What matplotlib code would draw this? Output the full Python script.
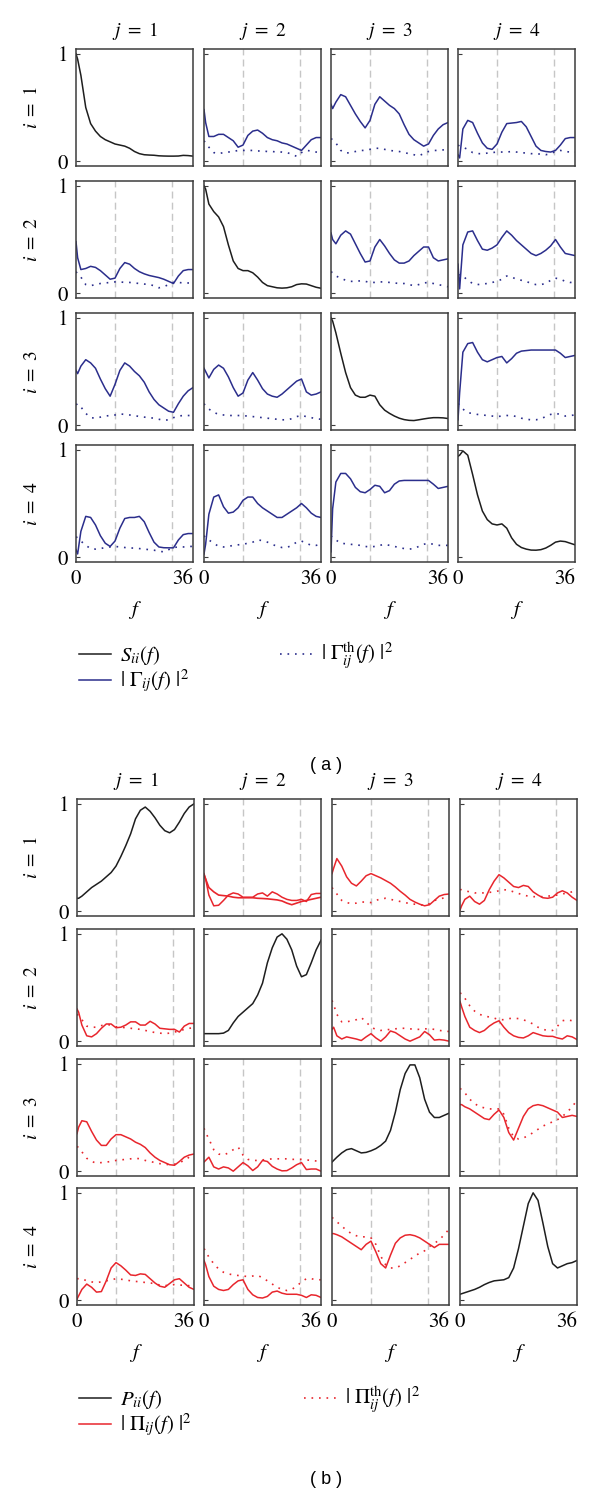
import matplotlib.pyplot as plt
from matplotlib.lines import Line2D

plt.rcParams['font.family'] = ['STIXGeneral', 'DejaVu Serif']
plt.rcParams['mathtext.fontset'] = 'stix'

# frequency grid (common to every curve)
f = [0, 0.5, 1.5, 3, 4.5, 6, 7.5, 9, 10.5, 12, 13.5, 15, 16.5, 18, 19.5, 21,
     22.5, 24, 25.5, 27, 28.5, 30, 31.5, 33, 34.5, 36]
f_marks = [12.1, 29.5]

# ---- panel (a): S_ii and |Gamma_ij|^2 ----
S11 = [1.0, 0.95, 0.8, 0.5, 0.35, 0.28, 0.23, 0.2, 0.18, 0.16, 0.15, 0.14, 0.12, 0.09, 0.07, 0.06, 0.057, 0.055, 0.05, 0.048, 0.047, 0.047, 0.048, 0.054, 0.052, 0.047]
S22 = [1.0, 0.97, 0.83, 0.76, 0.71, 0.62, 0.45, 0.3, 0.23, 0.21, 0.21, 0.19, 0.15, 0.1, 0.07, 0.06, 0.05, 0.047, 0.05, 0.06, 0.08, 0.087, 0.085, 0.07, 0.055, 0.046]
S33 = [1.0, 0.97, 0.86, 0.67, 0.49, 0.35, 0.28, 0.26, 0.26, 0.28, 0.27, 0.19, 0.14, 0.11, 0.085, 0.065, 0.052, 0.045, 0.043, 0.05, 0.058, 0.065, 0.07, 0.07, 0.068, 0.062]
S44 = [0.94, 0.95, 0.99, 0.95, 0.77, 0.58, 0.43, 0.35, 0.31, 0.3, 0.31, 0.27, 0.18, 0.12, 0.09, 0.075, 0.066, 0.065, 0.07, 0.085, 0.11, 0.14, 0.15, 0.145, 0.13, 0.115]

G12 = [0.48, 0.36, 0.23, 0.23, 0.25, 0.25, 0.22, 0.19, 0.13, 0.15, 0.24, 0.28, 0.29, 0.26, 0.22, 0.2, 0.19, 0.17, 0.16, 0.14, 0.12, 0.1, 0.15, 0.2, 0.22, 0.22]
G12th = [0.19, 0.17, 0.13, 0.08, 0.07, 0.08, 0.085, 0.09, 0.1, 0.1, 0.1, 0.1, 0.095, 0.095, 0.09, 0.09, 0.085, 0.085, 0.08, 0.065, 0.045, 0.08, 0.1, 0.095, 0.085, 0.08]
G13 = [0.53, 0.49, 0.55, 0.62, 0.6, 0.52, 0.44, 0.37, 0.31, 0.38, 0.53, 0.6, 0.56, 0.52, 0.49, 0.44, 0.34, 0.25, 0.2, 0.17, 0.14, 0.16, 0.24, 0.3, 0.34, 0.36]
G13th = [0.21, 0.2, 0.17, 0.1, 0.075, 0.08, 0.09, 0.1, 0.1, 0.11, 0.12, 0.12, 0.11, 0.1, 0.095, 0.09, 0.08, 0.07, 0.06, 0.05, 0.07, 0.09, 0.1, 0.1, 0.105, 0.1]
G14 = [0.06, 0.03, 0.3, 0.38, 0.36, 0.26, 0.17, 0.12, 0.11, 0.16, 0.27, 0.35, 0.355, 0.36, 0.37, 0.32, 0.23, 0.14, 0.1, 0.09, 0.085, 0.1, 0.15, 0.21, 0.22, 0.22]
G14th = [0.15, 0.14, 0.13, 0.11, 0.08, 0.07, 0.07, 0.075, 0.08, 0.085, 0.085, 0.085, 0.09, 0.085, 0.08, 0.075, 0.07, 0.07, 0.065, 0.06, 0.07, 0.09, 0.1, 0.09, 0.085, 0.085]
G21 = [0.48, 0.33, 0.22, 0.23, 0.25, 0.24, 0.21, 0.17, 0.13, 0.14, 0.23, 0.285, 0.27, 0.23, 0.2, 0.18, 0.165, 0.155, 0.145, 0.13, 0.11, 0.09, 0.16, 0.21, 0.22, 0.22]
G21th = [0.2, 0.18, 0.15, 0.08, 0.07, 0.08, 0.09, 0.095, 0.1, 0.105, 0.105, 0.1, 0.1, 0.095, 0.09, 0.085, 0.08, 0.07, 0.05, 0.06, 0.08, 0.1, 0.1, 0.095, 0.095, 0.095]
G23 = [0.56, 0.5, 0.46, 0.54, 0.58, 0.55, 0.46, 0.37, 0.29, 0.3, 0.43, 0.5, 0.44, 0.37, 0.31, 0.28, 0.28, 0.3, 0.35, 0.39, 0.43, 0.43, 0.33, 0.3, 0.31, 0.32]
G23th = [0.2, 0.19, 0.16, 0.14, 0.12, 0.11, 0.11, 0.115, 0.11, 0.1, 0.1, 0.105, 0.105, 0.1, 0.095, 0.09, 0.09, 0.08, 0.07, 0.08, 0.095, 0.1, 0.09, 0.08, 0.07, 0.06]
G24 = [0.27, 0.04, 0.45, 0.57, 0.58, 0.49, 0.41, 0.4, 0.42, 0.45, 0.52, 0.58, 0.54, 0.49, 0.45, 0.41, 0.37, 0.35, 0.37, 0.4, 0.44, 0.5, 0.43, 0.37, 0.36, 0.35]
G24th = [0.17, 0.17, 0.16, 0.12, 0.09, 0.08, 0.085, 0.09, 0.1, 0.11, 0.13, 0.16, 0.15, 0.13, 0.12, 0.11, 0.09, 0.08, 0.08, 0.09, 0.12, 0.14, 0.13, 0.11, 0.1, 0.1]
G31 = [0.51, 0.48, 0.55, 0.61, 0.58, 0.53, 0.43, 0.34, 0.27, 0.38, 0.51, 0.58, 0.55, 0.5, 0.46, 0.4, 0.31, 0.24, 0.19, 0.16, 0.13, 0.12, 0.2, 0.27, 0.32, 0.35]
G31th = [0.19, 0.2, 0.17, 0.11, 0.07, 0.065, 0.075, 0.085, 0.09, 0.095, 0.105, 0.1, 0.095, 0.09, 0.08, 0.075, 0.07, 0.065, 0.055, 0.045, 0.05, 0.07, 0.085, 0.09, 0.09, 0.09]
G32 = [0.53, 0.5, 0.44, 0.52, 0.56, 0.53, 0.45, 0.35, 0.27, 0.3, 0.42, 0.49, 0.42, 0.34, 0.29, 0.27, 0.26, 0.29, 0.33, 0.37, 0.41, 0.43, 0.31, 0.28, 0.29, 0.31]
G32th = [0.2, 0.18, 0.15, 0.12, 0.1, 0.095, 0.09, 0.09, 0.09, 0.088, 0.085, 0.08, 0.075, 0.07, 0.065, 0.06, 0.055, 0.05, 0.05, 0.06, 0.08, 0.09, 0.08, 0.07, 0.06, 0.055]
G34 = [0.05, 0.3, 0.68, 0.76, 0.77, 0.68, 0.61, 0.59, 0.61, 0.63, 0.64, 0.58, 0.62, 0.67, 0.69, 0.695, 0.7, 0.7, 0.7, 0.7, 0.7, 0.7, 0.67, 0.63, 0.64, 0.65]
G34th = [0.2, 0.19, 0.15, 0.115, 0.11, 0.1, 0.095, 0.09, 0.085, 0.08, 0.085, 0.09, 0.09, 0.08, 0.065, 0.055, 0.05, 0.05, 0.06, 0.08, 0.1, 0.11, 0.1, 0.085, 0.09, 0.095]
G41 = [0.07, 0.03, 0.24, 0.38, 0.37, 0.3, 0.2, 0.13, 0.1, 0.15, 0.27, 0.36, 0.37, 0.37, 0.38, 0.33, 0.23, 0.14, 0.095, 0.088, 0.087, 0.087, 0.16, 0.21, 0.22, 0.22]
G41th = [0.19, 0.18, 0.15, 0.11, 0.08, 0.075, 0.08, 0.09, 0.095, 0.1, 0.095, 0.09, 0.085, 0.085, 0.08, 0.075, 0.07, 0.065, 0.055, 0.05, 0.07, 0.09, 0.095, 0.095, 0.1, 0.1]
G42 = [0.03, 0.12, 0.4, 0.56, 0.58, 0.47, 0.41, 0.42, 0.46, 0.53, 0.56, 0.56, 0.5, 0.46, 0.43, 0.4, 0.37, 0.37, 0.4, 0.43, 0.46, 0.5, 0.46, 0.41, 0.38, 0.37]
G42th = [0.2, 0.18, 0.16, 0.13, 0.1, 0.095, 0.1, 0.11, 0.115, 0.12, 0.13, 0.14, 0.16, 0.155, 0.14, 0.12, 0.1, 0.09, 0.09, 0.11, 0.14, 0.15, 0.13, 0.11, 0.11, 0.12]
G43 = [0.05, 0.45, 0.7, 0.78, 0.78, 0.73, 0.65, 0.61, 0.6, 0.63, 0.67, 0.66, 0.6, 0.62, 0.68, 0.71, 0.715, 0.715, 0.715, 0.715, 0.715, 0.715, 0.68, 0.64, 0.65, 0.66]
G43th = [0.2, 0.18, 0.16, 0.13, 0.125, 0.12, 0.115, 0.11, 0.1, 0.095, 0.1, 0.11, 0.12, 0.11, 0.1, 0.09, 0.08, 0.075, 0.08, 0.1, 0.12, 0.13, 0.12, 0.11, 0.11, 0.11]

# ---- panel (b): P_ii and |Pi_ij|^2 ----
P11 = [0.12, 0.12, 0.14, 0.18, 0.22, 0.25, 0.28, 0.32, 0.36, 0.42, 0.51, 0.61, 0.72, 0.86, 0.94, 0.97, 0.93, 0.87, 0.8, 0.75, 0.73, 0.76, 0.83, 0.91, 0.97, 1.0]
P22 = [0.07, 0.07, 0.07, 0.07, 0.07, 0.075, 0.1, 0.17, 0.23, 0.27, 0.31, 0.35, 0.43, 0.54, 0.73, 0.87, 0.97, 1.0, 0.95, 0.85, 0.7, 0.6, 0.62, 0.73, 0.85, 0.94]
P33 = [0.085, 0.1, 0.13, 0.17, 0.2, 0.21, 0.19, 0.17, 0.175, 0.19, 0.21, 0.24, 0.28, 0.38, 0.55, 0.76, 0.91, 0.99, 0.99, 0.87, 0.67, 0.55, 0.5, 0.5, 0.52, 0.54]
P44 = [0.055, 0.06, 0.07, 0.085, 0.1, 0.12, 0.145, 0.165, 0.18, 0.185, 0.19, 0.21, 0.3, 0.48, 0.69, 0.9, 1.0, 0.93, 0.72, 0.5, 0.34, 0.3, 0.32, 0.34, 0.35, 0.37]

Pi12 = [0.35, 0.3, 0.15, 0.05, 0.055, 0.1, 0.15, 0.17, 0.16, 0.13, 0.13, 0.13, 0.16, 0.17, 0.14, 0.18, 0.16, 0.13, 0.11, 0.1, 0.1, 0.11, 0.09, 0.155, 0.165, 0.165]
Pi12th = [0.34, 0.3, 0.22, 0.18, 0.15, 0.145, 0.14, 0.13, 0.125, 0.125, 0.125, 0.125, 0.12, 0.118, 0.115, 0.11, 0.105, 0.095, 0.075, 0.06, 0.075, 0.09, 0.1, 0.11, 0.12, 0.13]
Pi13 = [0.35, 0.4, 0.49, 0.42, 0.32, 0.26, 0.235, 0.28, 0.33, 0.35, 0.33, 0.31, 0.285, 0.26, 0.225, 0.185, 0.15, 0.11, 0.085, 0.065, 0.05, 0.06, 0.1, 0.14, 0.155, 0.16]
Pi13th = [0.22, 0.2, 0.16, 0.1, 0.08, 0.07, 0.075, 0.085, 0.085, 0.08, 0.1, 0.115, 0.12, 0.11, 0.1, 0.09, 0.08, 0.07, 0.065, 0.06, 0.055, 0.07, 0.1, 0.11, 0.125, 0.135]
Pi14 = [0.01, 0.05, 0.11, 0.14, 0.09, 0.065, 0.1, 0.2, 0.28, 0.34, 0.31, 0.27, 0.23, 0.22, 0.24, 0.23, 0.18, 0.15, 0.125, 0.12, 0.13, 0.17, 0.19, 0.17, 0.13, 0.1]
Pi14th = [0.2, 0.2, 0.19, 0.18, 0.17, 0.17, 0.17, 0.175, 0.18, 0.19, 0.2, 0.195, 0.18, 0.165, 0.15, 0.14, 0.135, 0.135, 0.135, 0.14, 0.145, 0.15, 0.16, 0.17, 0.18, 0.19]
Pi21 = [0.3, 0.27, 0.15, 0.05, 0.04, 0.07, 0.12, 0.16, 0.16, 0.125, 0.13, 0.15, 0.18, 0.18, 0.15, 0.15, 0.185, 0.16, 0.12, 0.115, 0.11, 0.11, 0.085, 0.14, 0.165, 0.165]
Pi21th = [0.25, 0.24, 0.2, 0.14, 0.13, 0.13, 0.145, 0.155, 0.15, 0.135, 0.13, 0.125, 0.12, 0.115, 0.11, 0.1, 0.09, 0.08, 0.075, 0.07, 0.075, 0.085, 0.095, 0.11, 0.12, 0.125]
Pi23 = [0.11, 0.13, 0.05, 0.02, 0.04, 0.03, 0.02, 0.006, 0.04, 0.07, 0.03, 0.0, 0.04, 0.095, 0.08, 0.05, 0.02, 0.0, 0.02, 0.04, 0.09, 0.06, 0.01, 0.015, 0.01, 0.0]
Pi23th = [0.38, 0.34, 0.25, 0.18, 0.18, 0.19, 0.2, 0.22, 0.18, 0.13, 0.11, 0.1, 0.105, 0.11, 0.115, 0.12, 0.12, 0.115, 0.11, 0.11, 0.115, 0.115, 0.11, 0.1, 0.095, 0.09]
Pi24 = [0.37, 0.32, 0.23, 0.13, 0.1, 0.08, 0.1, 0.14, 0.17, 0.19, 0.13, 0.08, 0.05, 0.035, 0.03, 0.05, 0.08, 0.065, 0.05, 0.045, 0.045, 0.03, 0.02, 0.05, 0.04, 0.015]
Pi24th = [0.45, 0.44, 0.4, 0.33, 0.28, 0.25, 0.235, 0.225, 0.215, 0.2, 0.2, 0.21, 0.215, 0.21, 0.2, 0.18, 0.16, 0.13, 0.11, 0.1, 0.1, 0.14, 0.19, 0.2, 0.19, 0.18]
Pi31 = [0.35, 0.41, 0.47, 0.46, 0.37, 0.29, 0.24, 0.24, 0.3, 0.34, 0.34, 0.32, 0.3, 0.27, 0.25, 0.22, 0.17, 0.13, 0.1, 0.08, 0.06, 0.055, 0.09, 0.13, 0.15, 0.16]
Pi31th = [0.23, 0.22, 0.18, 0.12, 0.09, 0.075, 0.08, 0.085, 0.09, 0.1, 0.105, 0.11, 0.115, 0.12, 0.115, 0.1, 0.09, 0.08, 0.07, 0.065, 0.06, 0.065, 0.08, 0.1, 0.13, 0.15]
Pi32 = [0.085, 0.1, 0.13, 0.04, 0.02, 0.04, 0.03, 0.0, 0.04, 0.08, 0.05, 0.006, 0.04, 0.1, 0.09, 0.045, 0.02, 0.003, 0.005, 0.03, 0.06, 0.08, 0.015, 0.02, 0.02, 0.0]
Pi32th = [0.4, 0.36, 0.3, 0.2, 0.16, 0.15, 0.17, 0.2, 0.225, 0.15, 0.11, 0.1, 0.1, 0.105, 0.11, 0.115, 0.115, 0.115, 0.115, 0.11, 0.11, 0.11, 0.105, 0.1, 0.095, 0.09]
Pi34 = [0.62, 0.62, 0.6, 0.58, 0.55, 0.52, 0.49, 0.48, 0.53, 0.57, 0.5, 0.36, 0.29, 0.4, 0.51, 0.58, 0.61, 0.62, 0.61, 0.59, 0.57, 0.55, 0.5, 0.51, 0.52, 0.51]
Pi34th = [0.77, 0.76, 0.73, 0.67, 0.63, 0.6, 0.59, 0.58, 0.58, 0.58, 0.53, 0.4, 0.32, 0.3, 0.31, 0.33, 0.36, 0.39, 0.42, 0.44, 0.46, 0.48, 0.51, 0.55, 0.6, 0.66]
Pi41 = [0.01, 0.04, 0.1, 0.15, 0.12, 0.075, 0.08, 0.18, 0.3, 0.35, 0.32, 0.28, 0.235, 0.23, 0.245, 0.24, 0.2, 0.16, 0.13, 0.12, 0.155, 0.19, 0.2, 0.16, 0.12, 0.1]
Pi41th = [0.2, 0.2, 0.2, 0.18, 0.17, 0.165, 0.17, 0.18, 0.19, 0.2, 0.195, 0.19, 0.18, 0.175, 0.17, 0.165, 0.16, 0.155, 0.14, 0.135, 0.14, 0.145, 0.14, 0.14, 0.135, 0.135]
Pi42 = [0.37, 0.33, 0.22, 0.13, 0.1, 0.09, 0.1, 0.145, 0.18, 0.19, 0.1, 0.05, 0.025, 0.02, 0.035, 0.075, 0.085, 0.065, 0.055, 0.055, 0.055, 0.045, 0.025, 0.05, 0.045, 0.025]
Pi42th = [0.48, 0.46, 0.4, 0.34, 0.29, 0.26, 0.245, 0.235, 0.23, 0.225, 0.22, 0.225, 0.23, 0.21, 0.18, 0.15, 0.12, 0.1, 0.09, 0.1, 0.13, 0.17, 0.2, 0.2, 0.19, 0.19]
Pi43 = [0.62, 0.62, 0.61, 0.59, 0.56, 0.53, 0.5, 0.47, 0.52, 0.55, 0.45, 0.34, 0.3, 0.42, 0.53, 0.58, 0.605, 0.61, 0.6, 0.58, 0.55, 0.52, 0.49, 0.52, 0.52, 0.52]
Pi43th = [0.77, 0.76, 0.73, 0.69, 0.65, 0.62, 0.6, 0.59, 0.59, 0.58, 0.52, 0.41, 0.33, 0.3, 0.3, 0.32, 0.35, 0.38, 0.41, 0.44, 0.46, 0.5, 0.53, 0.56, 0.61, 0.66]

diag_a = [S11, S22, S33, S44]
pairs_a = {(0, 1): (G12, G12th), (0, 2): (G13, G13th), (0, 3): (G14, G14th),
           (1, 0): (G21, G21th), (1, 2): (G23, G23th), (1, 3): (G24, G24th),
           (2, 0): (G31, G31th), (2, 1): (G32, G32th), (2, 3): (G34, G34th),
           (3, 0): (G41, G41th), (3, 1): (G42, G42th), (3, 2): (G43, G43th)}
diag_b = [P11, P22, P33, P44]
pairs_b = {(0, 1): (Pi12, Pi12th), (0, 2): (Pi13, Pi13th), (0, 3): (Pi14, Pi14th),
           (1, 0): (Pi21, Pi21th), (1, 2): (Pi23, Pi23th), (1, 3): (Pi24, Pi24th),
           (2, 0): (Pi31, Pi31th), (2, 1): (Pi32, Pi32th), (2, 3): (Pi34, Pi34th),
           (3, 0): (Pi41, Pi41th), (3, 1): (Pi42, Pi42th), (3, 2): (Pi43, Pi43th)}

W, H = 600, 1494
fig = plt.figure(figsize=(W / 100, H / 100), dpi=100)

BLACK = '#1e1e1e'
BLUE = '#2b2e8c'
RED = '#e8262d'
FRAME = '#3c3c3c'
DOT = (0, (1, 3.5))


def px_axes(left, top, w=117, h=117):
    return fig.add_axes([left / W, 1 - (top + h) / H, w / W, h / H])


def draw_block(tops, lefts, diag, pairs, color, solid_th=()):
    for r in range(4):
        for c in range(4):
            ax = px_axes(lefts[c], tops[r])
            if r == c:
                ax.plot(f, diag[r], color=BLACK, lw=1.1)
            else:
                for xm in f_marks:
                    ax.axvline(xm, color='#c6c6c6', lw=1.0, ls=(0, (5, 3)), zorder=0)
                val, th = pairs[(r, c)]
                ls = '-' if (r, c) in solid_th else DOT
                ax.plot(f, th, color=color, lw=1.2, ls=ls)
                ax.plot(f, val, color=color, lw=1.1)
            ax.set_xlim(0, 36)
            ax.set_ylim(-0.045, 1.045)
            ax.set_yticks([0, 1])
            ax.set_xticks([0, 36])
            ax.tick_params(axis='y', direction='in', length=3, width=0.8,
                           color=FRAME, labelsize=15, pad=6)
            ax.tick_params(axis='x', length=0, labelsize=15, pad=5)
            if c != 0:
                ax.set_yticklabels([])
            if r != 3:
                ax.set_xticklabels([])
            else:
                ax.get_xticklabels()[1].set_horizontalalignment('right')
            for sp in ax.spines.values():
                sp.set_color(FRAME)
                sp.set_linewidth(1.1)
            if r == 0:
                ax.text(0.5, 1 + 18 / 117, r'$j\ =\ %d$' % (c + 1), transform=ax.transAxes,
                        ha='center', va='center', fontsize=14)
            if c == 0:
                ax.text((32 - lefts[0]) / 117, 0.5, r'$i\ =\ %d$' % (r + 1), transform=ax.transAxes,
                        ha='center', va='center', fontsize=14, rotation=90)
            if r == 3:
                ax.text(0.5, -48 / 117, r'$f$', transform=ax.transAxes,
                        ha='center', va='center', fontsize=15)


draw_block([49, 181, 313, 445], [76, 204, 331, 458], diag_a, pairs_a, BLUE)
draw_block([799, 929, 1059, 1188], [77, 204, 332, 460], diag_b, pairs_b, RED,
           solid_th=[(0, 1)])

# legends
hA = [Line2D([], [], color=BLACK, lw=1.1),
      Line2D([], [], color=BLUE, lw=1.1),
      Line2D([], [], color=BLUE, lw=1.2, ls=DOT)]
labA = [r'$S_{ii}(f)$', r'$|\ \Gamma_{ij}(f)\ |^2$', r'$|\ \Gamma^{\rm th}_{ij}(f)\ |^2$']
fig.legend(hA, labA, ncol=2, loc='upper left', bbox_to_anchor=(79 / W, 1 - 641 / H),
           frameon=False, fontsize=15, handlelength=1.55, handletextpad=0.4,
           columnspacing=4.4, labelspacing=0.05, borderpad=0, borderaxespad=0)

hB = [Line2D([], [], color=BLACK, lw=1.1),
      Line2D([], [], color=RED, lw=1.1),
      Line2D([], [], color=RED, lw=1.2, ls=DOT)]
labB = [r'$P_{ii}(f)$', r'$|\ \Pi_{ij}(f)\ |^2$', r'$|\ \Pi^{\rm th}_{ij}(f)\ |^2$']
fig.legend(hB, labB, ncol=2, loc='upper left', bbox_to_anchor=(79 / W, 1 - 1385 / H),
           frameon=False, fontsize=15, handlelength=1.55, handletextpad=0.4,
           columnspacing=5.4, labelspacing=0.05, borderpad=0, borderaxespad=0)

fig.text(326 / W, 1 - 765 / H, '( a )', fontfamily='Liberation Sans', fontsize=13,
         ha='center', va='center')
fig.text(326 / W, 1 - 1480 / H, '( b )', fontfamily='Liberation Sans', fontsize=13,
         ha='center', va='center')

fig.savefig('out.png', dpi=100)
